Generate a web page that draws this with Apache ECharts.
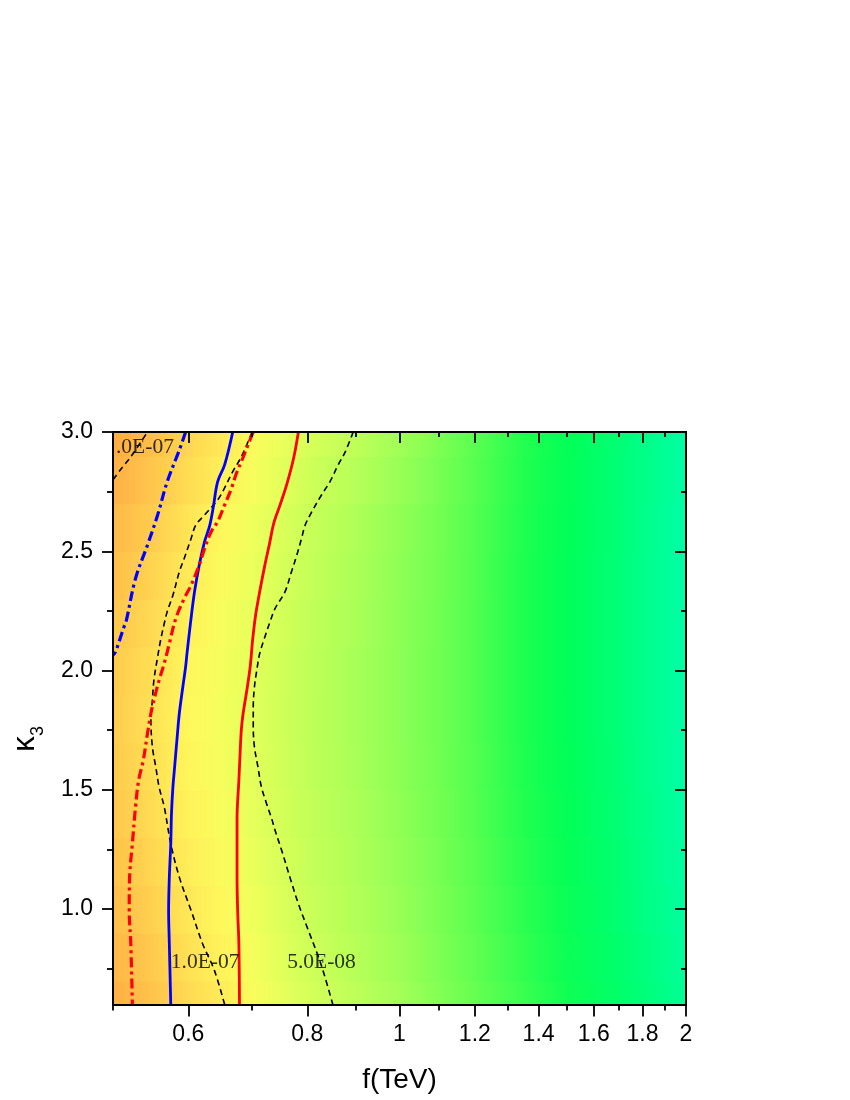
<!DOCTYPE html>
<html>
<head>
<meta charset="utf-8">
<script src="https://cdn.jsdelivr.net/npm/echarts@6/dist/echarts.min.js"></script>
<style>
html, body { margin: 0; padding: 0; background: #fff; }
#chart { width: 850px; height: 1100px; }
</style>
</head>
<body>
<div id="chart"></div>
<script>
// background field (units of 1e-8), rows go from k3 = 0.6 up to 3.0
const fNodes = [0.5, 0.55, 0.6, 0.65, 0.7, 0.75, 0.8, 0.9, 1.0, 1.1, 1.2, 1.35, 1.5, 1.7, 2.0];
const kNodes = [0.6, 0.8, 1.0, 1.2, 1.4, 1.6, 1.8, 2.0, 2.2, 2.4, 2.6, 2.8, 3.0];
const sigma = [
    [17.9, 14.3, 11.4, 9.5, 7.8, 6.4, 5.3, 4.06, 3.15, 2.39, 1.84, 1.36, 1.0, 0.71, 0.45],
    [16.6, 13.3, 10.6, 8.9, 7.3, 6.0, 5.0, 3.85, 3.0, 2.28, 1.76, 1.3, 0.96, 0.68, 0.43],
    [15.5, 12.4, 9.9, 8.4, 6.9, 5.7, 4.75, 3.68, 2.87, 2.2, 1.69, 1.25, 0.93, 0.65, 0.41],
    [14.6, 11.7, 9.4, 7.9, 6.6, 5.45, 4.55, 3.55, 2.78, 2.13, 1.65, 1.22, 0.9, 0.64, 0.40],
    [13.8, 11.1, 9.0, 7.6, 6.3, 5.2, 4.38, 3.43, 2.69, 2.06, 1.6, 1.18, 0.88, 0.62, 0.39],
    [13.3, 10.7, 8.7, 7.3, 6.1, 5.08, 4.26, 3.34, 2.63, 2.02, 1.57, 1.16, 0.86, 0.61, 0.38],
    [13.0, 10.5, 8.5, 7.2, 6.0, 5.0, 4.2, 3.3, 2.6, 2.0, 1.55, 1.15, 0.85, 0.6, 0.38],
    [13.3, 10.7, 8.6, 7.3, 6.1, 5.05, 4.23, 3.31, 2.6, 2.0, 1.55, 1.15, 0.85, 0.6, 0.38],
    [14.0, 11.3, 9.0, 7.6, 6.3, 5.2, 4.33, 3.37, 2.63, 2.01, 1.55, 1.15, 0.85, 0.6, 0.38],
    [15.1, 12.0, 9.6, 8.0, 6.6, 5.4, 4.47, 3.43, 2.66, 2.03, 1.56, 1.15, 0.85, 0.6, 0.38],
    [16.3, 12.9, 10.2, 8.5, 6.9, 5.65, 4.65, 3.53, 2.72, 2.06, 1.58, 1.16, 0.86, 0.61, 0.38],
    [17.7, 14.0, 11.1, 9.2, 7.5, 6.1, 5.0, 3.8, 2.9, 2.15, 1.63, 1.18, 0.87, 0.61, 0.39],
    [19.0, 15.0, 11.8, 9.8, 8.0, 6.6, 5.4, 4.1, 3.1, 2.25, 1.68, 1.2, 0.88, 0.62, 0.39],
];
const colorStops = [
    [24, "#FF9C3A"], [18, "#FFB044"], [13, "#FFCC4E"], [10.5, "#FFE255"], [8.5, "#FFF85C"],
    [7.2, "#F4FF5C"], [6.0, "#E2FF5A"], [5.0, "#D0FF58"], [4.2, "#C0FF58"], [3.3, "#A8FF57"],
    [2.6, "#8CFF55"], [2.0, "#70FF52"], [1.55, "#50FF50"], [1.15, "#1CFF50"], [0.85, "#00FF58"],
    [0.6, "#00FF78"], [0.38, "#00FFA8"], [0.3, "#00FFC0"],
];

const xMajorTicks = [0.6, 0.8, 1, 1.2, 1.4, 1.6, 1.8, 2];
const xMinorTicks = [0.5, 0.7, 0.9, 1.1, 1.3, 1.5, 1.7, 1.9];
const yMajorTicks = [1.0, 1.5, 2.0, 2.5, 3.0];
const yMinorTicks = [0.75, 1.25, 1.75, 2.25, 2.75];

// limit curves, [f, k3]
const blueDashDot = [[0.596, 3.0], [0.587, 2.924], [0.570, 2.791], [0.557, 2.652], [0.5435, 2.526], [0.528, 2.386],
    [0.516, 2.204], [0.5135, 2.183], [0.503, 2.078], [0.5, 2.065]];
const blueSolid = [[0.668, 3.0], [0.655, 2.862], [0.644, 2.791], [0.637, 2.68], [0.632, 2.61], [0.624, 2.54],
    [0.616, 2.442], [0.609, 2.33], [0.603, 2.197], [0.598, 2.071], [0.596, 2.015], [0.592, 1.931], [0.587, 1.82],
    [0.584, 1.722], [0.58, 1.582], [0.578, 1.512], [0.576, 1.4], [0.575, 1.274], [0.573, 1.134], [0.572, 0.994],
    [0.573, 0.855], [0.575, 0.6]];
const redSolid = [[0.783, 3.0], [0.774, 2.89], [0.761, 2.778], [0.749, 2.694], [0.738, 2.62], [0.730, 2.53],
    [0.722, 2.442], [0.713, 2.33], [0.706, 2.232], [0.701, 2.13], [0.697, 2.02], [0.692, 1.93],
    [0.685, 1.82], [0.682, 1.75], [0.68, 1.652], [0.678, 1.54], [0.675, 1.379], [0.675, 1.274], [0.675, 1.134],
    [0.676, 0.994], [0.678, 0.855], [0.679, 0.6]];
const redDashDot = [[0.702, 3.0], [0.693, 2.945], [0.682, 2.875], [0.674, 2.827], [0.666, 2.764], [0.655, 2.694],
    [0.644, 2.624], [0.634, 2.582], [0.624, 2.512], [0.616, 2.442], [0.604, 2.358], [0.594, 2.302], [0.582, 2.218],
    [0.573, 2.113], [0.566, 2.03], [0.559, 1.959], [0.552, 1.876], [0.548, 1.82], [0.5435, 1.736], [0.538, 1.624],
    [0.532, 1.54], [0.528, 1.428], [0.524, 1.274], [0.5205, 1.134], [0.52, 0.994], [0.522, 0.855], [0.524, 0.6]];

// contour lines
const contour2e7 = [[0.5, 2.80], [0.511, 2.85], [0.522, 2.896], [0.5435, 3.0]];
const contour1e7 = [[0.70, 3.0], [0.682, 2.896], [0.668, 2.834], [0.652, 2.75], [0.644, 2.715], [0.624, 2.652],
    [0.611, 2.61], [0.604, 2.554], [0.594, 2.47], [0.587, 2.414], [0.578, 2.316], [0.57, 2.246], [0.566, 2.197],
    [0.561, 2.127], [0.557, 2.057], [0.552, 1.959], [0.55, 1.876], [0.548, 1.792], [0.55, 1.68], [0.5545, 1.596],
    [0.559, 1.512], [0.566, 1.428], [0.575, 1.274], [0.587, 1.134], [0.604, 0.994], [0.621, 0.855], [0.639, 0.743],
    [0.655, 0.6]];
const contour5e8 = [[0.894, 3.0], [0.877, 2.917], [0.862, 2.862], [0.845, 2.791], [0.828, 2.736], [0.809, 2.666],
    [0.796, 2.61], [0.789, 2.554], [0.78, 2.484], [0.77, 2.414], [0.758, 2.33], [0.74, 2.26], [0.731, 2.204],
    [0.722, 2.141], [0.713, 2.071], [0.708, 2.001], [0.704, 1.931], [0.702, 1.847], [0.702, 1.763], [0.704, 1.68],
    [0.71, 1.596], [0.716, 1.512], [0.725, 1.442], [0.734, 1.379], [0.74, 1.33], [0.752, 1.246], [0.767, 1.134],
    [0.783, 1.022], [0.802, 0.911], [0.822, 0.799], [0.835, 0.715], [0.851, 0.6]];
const contourLabels = [[0.5036, 2.937, ".0E-07"], [0.575, 0.776, "1.0E-07"], [0.762, 0.776, "5.0E-08"]];

const xMin = 0.5, xMax = 2, yMin = 0.6, yMax = 3.0;

function sigmaColor(v) {
    if (v >= colorStops[0][0]) return colorStops[0][1];
    for (let i = 0; i < colorStops.length - 1; i++) {
        const a = colorStops[i], b = colorStops[i + 1];
        if (v <= a[0] && v >= b[0]) {
            const t = (Math.log(a[0]) - Math.log(v)) / (Math.log(a[0]) - Math.log(b[0]));
            return echarts.color.lerp(t, [a[1], b[1]]);
        }
    }
    return colorStops[colorStops.length - 1][1];
}

// one strip cell per pair of neighbouring f nodes, per k3 row
const cells = [];
for (let j = 0; j < kNodes.length; j++) {
    const kLow = j === 0 ? yMin : (kNodes[j - 1] + kNodes[j]) / 2;
    const kHigh = j === kNodes.length - 1 ? yMax : (kNodes[j] + kNodes[j + 1]) / 2;
    for (let i = 0; i < fNodes.length - 1; i++) {
        cells.push([fNodes[i], fNodes[i + 1], kLow, kHigh, sigma[j][i], sigma[j][i + 1]]);
    }
}

const axisColor = "#000";
const lineW = 1.8;
const tickFont = { fontFamily: "Liberation Sans", fontSize: 23, color: "#000" };

function xAx(position, ticks, len, inside, labels) {
    return {
        type: "log", logBase: 10, min: xMin, max: xMax, position, z: 10,
        axisLine: { show: true, lineStyle: { color: axisColor, width: lineW } },
        axisTick: { show: true, inside, length: len, customValues: ticks, lineStyle: { color: axisColor, width: lineW } },
        axisLabel: labels
            ? Object.assign({ show: true, margin: 19, customValues: ticks, formatter: v => String(+(+v).toFixed(2)) }, tickFont)
            : { show: false },
        splitLine: { show: false },
        minorTick: { show: false },
    };
}
function yAx(position, ticks, len, inside, labels) {
    return {
        type: "value", min: yMin, max: yMax, position, z: 10,
        axisLine: { show: true, lineStyle: { color: axisColor, width: lineW } },
        axisTick: { show: true, inside, length: len, customValues: ticks, lineStyle: { color: axisColor, width: lineW } },
        axisLabel: labels
            ? Object.assign({ show: true, margin: 20, customValues: ticks, formatter: v => (+v).toFixed(1) }, tickFont)
            : { show: false },
        splitLine: { show: false },
    };
}

const xAxisList = [
    xAx("bottom", xMajorTicks, 12, false, true),
    xAx("bottom", xMinorTicks, 6, false, false),
    xAx("top", xMajorTicks, 11, true, false),
    xAx("top", xMinorTicks, 5, true, false),
];
xAxisList[0].name = "f(TeV)";
xAxisList[0].nameLocation = "middle";
xAxisList[0].nameGap = 62;
xAxisList[0].nameTextStyle = { fontFamily: "Liberation Sans", fontSize: 28, color: "#000" };

const yAxisList = [
    yAx("left", yMajorTicks, 11, false, true),
    yAx("left", yMinorTicks, 6, false, false),
    yAx("right", yMajorTicks, 11, true, false),
    yAx("right", yMinorTicks, 5, true, false),
];

function curve(name, data, color, width, type) {
    return {
        name, type: "line", data, xAxisIndex: 0, yAxisIndex: 0, z: 5,
        showSymbol: false, symbol: "none", smooth: 0.35, silent: true, clip: true,
        lineStyle: { color, width, type, cap: "butt" },
    };
}

const chart = echarts.init(document.getElementById("chart"), null, { renderer: "canvas" });
chart.setOption({
    animation: false,
    backgroundColor: "#fff",
    grid: { left: 113, top: 432, width: 573, height: 572.5, containLabel: false },
    xAxis: xAxisList,
    yAxis: yAxisList,
    series: [
        {
            type: "custom", data: cells, xAxisIndex: 0, yAxisIndex: 0, clip: true, silent: true, z: 1,
            encode: { x: [0, 1], y: [2, 3] },
            renderItem: function (params, api) {
                const p0 = api.coord([api.value(0), api.value(3)]);
                const p1 = api.coord([api.value(1), api.value(2)]);
                return {
                    type: "rect",
                    shape: { x: p0[0], y: p0[1], width: p1[0] - p0[0] + 0.8, height: p1[1] - p0[1] + 0.8 },
                    style: {
                        fill: {
                            type: "linear", x: 0, y: 0, x2: 1, y2: 0,
                            colorStops: [
                                { offset: 0, color: sigmaColor(api.value(4)) },
                                { offset: 1, color: sigmaColor(api.value(5)) },
                            ],
                        },
                    },
                };
            },
        },
        curve("contour 2e-7", contour2e7, "#000", 1.6, [6, 4]),
        curve("contour 1e-7", contour1e7, "#000", 1.6, [6, 4]),
        curve("contour 5e-8", contour5e8, "#000", 1.6, [6, 4]),
        curve("blue dash-dot", blueDashDot, "#0000FF", 3.2, [10, 4, 3, 4]),
        curve("blue solid", blueSolid, "#0000FF", 2.8, "solid"),
        curve("red dash-dot", redDashDot, "#FF0000", 3.2, [10, 4, 3, 4]),
        curve("red solid", redSolid, "#FF0000", 2.8, "solid"),
        {
            type: "scatter", data: contourLabels, xAxisIndex: 0, yAxisIndex: 0, z: 6, silent: true,
            symbolSize: 0,
            label: {
                show: true, position: "right", distance: 0,
                formatter: p => p.value[2],
                fontFamily: "Liberation Serif", fontSize: 21.5, color: "#000",
            },
        },
    ],
    graphic: [
        {
            type: "text", x: 25, y: 744, rotation: Math.PI / 2, z: 20,
            style: { text: "κ", font: "31px 'Liberation Sans'", fill: "#000", align: "center", verticalAlign: "middle" },
        },
        {
            type: "text", x: 38, y: 731, rotation: Math.PI / 2, z: 20,
            style: { text: "3", font: "18px 'Liberation Sans'", fill: "#000", align: "center", verticalAlign: "middle" },
        },
        {
            type: "group", left: 490, top: 937, z: 20,
            children: [
                { type: "rect", shape: { x: 0, y: 0, width: 162, height: 44 }, style: { fill: "#fff", stroke: "#000", lineWidth: 1.2 } },
                {
                    type: "text", x: 81, y: 22,
                    style: { text: "Scenario I", font: "29px 'Liberation Sans'", fill: "#000", align: "center", verticalAlign: "middle" },
                },
            ],
        },
    ],
});
</script>
</body>
</html>
